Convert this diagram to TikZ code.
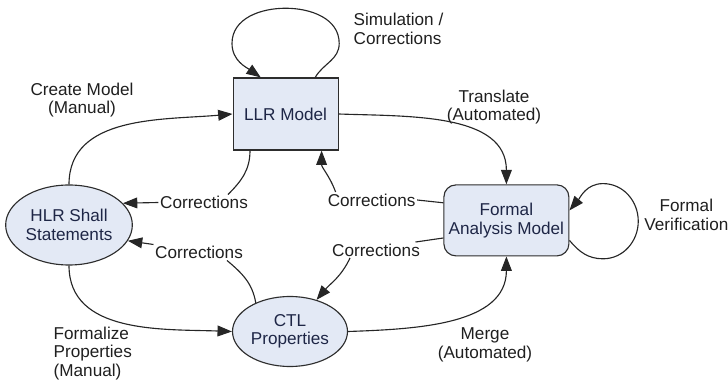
\documentclass[tikz,border=0pt]{standalone}
\usepackage{fontspec}
\setmainfont{Liberation Sans}
\usetikzlibrary{arrows.meta,shapes.geometric}
\definecolor{modelfill}{RGB}{227,233,245}
\definecolor{modelline}{RGB}{45,45,45}
\definecolor{modeltext}{RGB}{30,38,70}

\begin{document}
\begin{tikzpicture}[
    font=\fontsize{12.2pt}{13.1pt}\selectfont,
    model/.style={draw=modelline, fill=modelfill, line width=0.8pt, text=modeltext, align=center, inner sep=1pt},
    oval/.style={model, ellipse},
    lab/.style={text=black!88, align=center, inner sep=1pt},
    arr/.style={draw=black!85, line width=0.8pt, -{Triangle[length=0.36cm,width=0.27cm]}},
    link/.style={draw=black!85, line width=0.8pt}]
  \useasboundingbox (0,0) rectangle (18.2,9.55);
  %
  \node[model, minimum width=2.625cm, minimum height=1.8cm] (llr) at (7.14,6.70) {LLR Model};
  \node[oval, minimum width=2.875cm, minimum height=2cm] (hlr) at (1.725,3.925) {HLR Shall\\Statements};
  \node[oval, minimum width=2.875cm, minimum height=1.75cm] (ctl) at (7.25,1.2625) {CTL\\Properties};
  \node[model, rounded corners=0.3cm, minimum width=3.125cm, minimum height=1.775cm] (fam) at (12.66,4.04) {Formal\\Analysis Model};
  %
  \node[lab, anchor=west, align=left] (sim) at (8.8,8.825) {Simulation /\\Corrections};
  \node[lab] (create) at (2.05,7.05) {Create Model\\(Manual)};
  \node[lab] (transl) at (12.35,6.875) {Translate\\(Automated)};
  \node[lab] (fver) at (17.16,4.175) {Formal\\Verification};
  \node[lab, anchor=west, align=left] (formz) at (1.3,0.7125) {Formalize\\Properties\\(Manual)};
  \node[lab] (merge) at (12.125,0.925) {Merge\\(Automated)};
  \node[lab] (c1) at (5.1,4.4875) {Corrections};
  \node[lab] (c2) at (9.29,4.55) {Corrections};
  \node[lab] (c3) at (9.4,3.3) {Corrections};
  \node[lab] (c4) at (4.975,3.2375) {Corrections};
  %
  \draw[arr] ([xshift=0.74cm]llr.north) to[out=60,in=-90] ++(0.6,0.85) to[out=90,in=0] ++(-1.34,0.88)
    to[out=180,in=90] ++(-1.34,-0.88) to[out=-90,in=145] ([xshift=-0.62cm]llr.north);
  \draw[arr] ([yshift=-0.5cm]fam.east) to[out=-50,in=180] ++(0.84,-0.46) to[out=0,in=-90] ++(0.88,0.94)
    to[out=90,in=0] ++(-0.88,0.94) to[out=180,in=50] ([yshift=0.25cm]fam.east);
  \draw[arr] (hlr.north) to[out=90,in=185] (llr.west);
  \draw[arr] (llr.east) to[out=-2,in=90] (fam.north);
  \draw[arr] (hlr.south) to[out=-90,in=178] (ctl.west);
  \draw[arr] (ctl.east) to[out=2,in=-90] (fam.south);
  %
  \draw[link] ([xshift=-0.89cm]llr.south) to[out=-90,in=45] ([xshift=0.6cm]c1.north);
  \draw[arr] (c1.west) -- (hlr.22);
  \draw[link] ([yshift=0.44cm]fam.west) -- (c2.east);
  \draw[arr] ([xshift=-0.9cm]c2.north) to[out=110,in=-90] ([xshift=0.9cm]llr.south);
  \draw[link] ([yshift=-0.44cm]fam.west) -- ([xshift=-0.15cm]c3.north east);
  \draw[arr] ([xshift=-0.65cm]c3.south) to[out=-115,in=50] (ctl.50);
  \draw[link] (ctl.140) to[out=100,in=-40] ([xshift=0.7cm]c4.south);
  \draw[arr] ([yshift=0.2cm]c4.west) -- (hlr.-15);
\end{tikzpicture}
\end{document}
